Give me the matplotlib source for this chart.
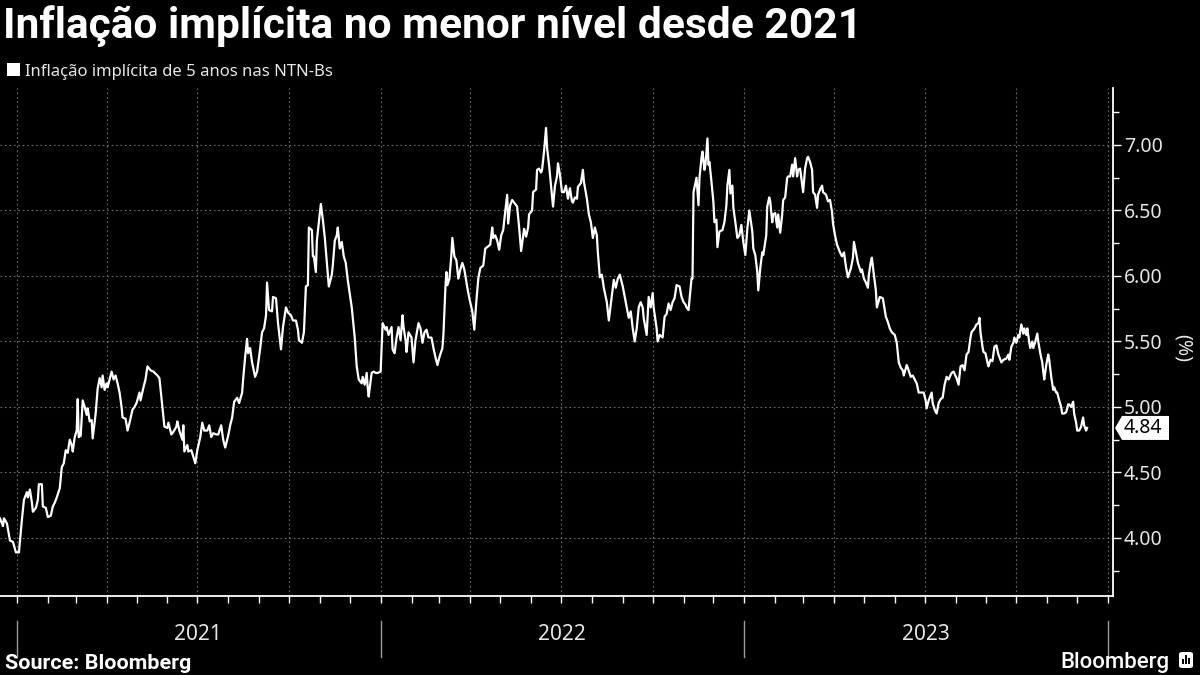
import matplotlib
matplotlib.use("Agg")
import matplotlib.pyplot as plt
import matplotlib.dates as mdates
import matplotlib.transforms as mtransforms
import pandas as pd
from matplotlib.patches import Rectangle, Polygon, FancyBboxPatch

plt.rcParams['font.family'] = ['Noto Sans', 'DejaVu Sans']
BOLD = ['Roboto', 'Lato', 'DejaVu Sans']

start = pd.Timestamp("2020-12-15")

days_2021a = [0, 3, 4, 7, 10, 13, 16, 19, 22, 24, 27, 28, 30, 32, 33, 36, 38, 39, 42, 43,
              46, 48, 51, 53, 55, 57, 60, 62, 64, 66, 68, 70, 72, 73, 75, 77, 78, 79, 81, 83,
              85, 87, 88, 90, 92, 93, 96, 98, 100, 102, 103, 105, 107, 108, 110, 112, 114, 116, 118, 120,
              122, 123, 126, 128, 130, 133, 135, 137,
              140, 141, 144, 146, 148, 151, 154, 158, 160, 163, 165, 168, 169, 172, 174, 177, 178, 180, 183, 184,
              185, 188, 189, 192, 194, 196, 198, 201, 203, 205, 208, 210, 212, 214, 217, 219, 222, 224, 226, 229,
              231]
vals_2021a = [4.15, 4.09, 4.15, 4.11, 3.98, 3.97, 3.89, 3.89, 4.14, 4.29, 4.35, 4.31, 4.37, 4.27, 4.20, 4.23, 4.29, 4.41, 4.41, 4.24,
              4.23, 4.16, 4.17, 4.24, 4.27, 4.31, 4.38, 4.54, 4.57, 4.67, 4.65, 4.75, 4.71, 4.66, 4.77, 4.82, 5.06, 4.77, 4.78, 5.05,
              5.00, 4.94, 4.99, 4.89, 4.90, 4.76, 4.95, 5.14, 5.22, 5.15, 5.24, 5.13, 5.18, 5.15, 5.21, 5.27, 5.21, 5.24, 5.18, 5.11,
              5.00, 4.92, 4.91, 4.82, 4.88, 4.98, 5.00, 5.03,
              5.11, 5.05, 5.15, 5.21, 5.31, 5.28, 5.27, 5.24, 5.22, 5.00, 4.85, 4.84, 4.88, 4.79, 4.81, 4.85, 4.89, 4.82, 4.75, 4.86,
              4.66, 4.71, 4.66, 4.67, 4.62, 4.57, 4.67, 4.77, 4.88, 4.82, 4.82, 4.86, 4.77, 4.80, 4.79, 4.79, 4.86, 4.75, 4.69, 4.78,
              4.86]

days_2021b = [233, 235, 238, 240, 243, 244, 246, 248, 249, 251, 253, 256, 258, 261, 263, 265, 267, 268, 270, 273,
              274, 277, 279, 282, 284, 287, 289, 292, 294, 297, 299, 300, 303, 305, 307, 309, 310, 313, 314, 315,
              317, 318, 320, 322, 324, 326, 328, 330, 333, 334, 336, 338, 339, 341, 343, 345, 347, 349, 353, 356,
              358, 360, 363, 364, 366, 368, 369, 370, 373, 375, 377, 379, 382, 384, 387, 388, 390, 393, 394, 396,
              398, 400, 402, 404, 405, 407, 408, 410, 413, 415, 417, 420, 422, 424, 426, 428, 430, 433, 435, 437,
              439, 441, 444, 445]
vals_2021b = [4.92, 5.04, 5.07, 5.03, 5.11, 5.21, 5.38, 5.52, 5.41, 5.45, 5.34, 5.23, 5.27, 5.44, 5.57, 5.60, 5.70, 5.95, 5.74, 5.73,
              5.84, 5.83, 5.64, 5.44, 5.61, 5.76, 5.72, 5.70, 5.66, 5.66, 5.59, 5.51, 5.49, 5.57, 5.92, 5.93, 6.37, 6.35, 6.15, 6.15,
              6.03, 6.27, 6.41, 6.55, 6.43, 6.29, 6.10, 5.92, 6.01, 6.08, 6.27, 6.31, 6.37, 6.21, 6.26, 6.15, 6.10, 5.97, 5.76, 5.53,
              5.31, 5.21, 5.18, 5.23, 5.17, 5.26, 5.15, 5.08, 5.26, 5.27, 5.26, 5.26, 5.27, 5.64, 5.59, 5.61, 5.55, 5.61, 5.44, 5.41,
              5.53, 5.61, 5.51, 5.70, 5.61, 5.51, 5.42, 5.57, 5.53, 5.34, 5.51, 5.64, 5.60, 5.49, 5.57, 5.59, 5.53, 5.53, 5.45, 5.38,
              5.32, 5.38, 5.45, 5.55]

days_2022a = [447, 448, 449, 451, 453, 454, 456, 458, 460, 462, 464, 466, 469, 471, 474, 476, 478, 480, 482, 485,
              487, 489, 492, 494, 495, 497, 499, 501, 503, 505, 507, 509, 510, 512, 514, 516, 519, 521, 523, 525,
              526, 528, 530, 531, 534, 535, 538, 539, 541, 543, 544, 546, 548, 549, 551, 553, 555, 557, 559, 560,
              562, 564, 566, 568, 570, 572, 574, 575, 577, 579, 580, 583, 585, 586, 589, 591, 593, 595, 597, 599,
              600, 602, 604, 606, 609, 611, 614, 616, 618, 620, 622, 625, 627, 629, 631, 633, 635, 637, 639, 641,
              643, 645, 646, 649, 651, 653, 655, 656, 659, 660, 662, 665]
vals_2022a = [5.91, 6.03, 5.93, 5.98, 6.16, 6.29, 6.15, 6.12, 5.98, 6.05, 6.10, 6.05, 5.91, 5.83, 5.73, 5.59, 5.80, 5.98, 6.06, 6.08,
              6.21, 6.22, 6.24, 6.37, 6.29, 6.31, 6.27, 6.20, 6.31, 6.35, 6.49, 6.62, 6.40, 6.54, 6.58, 6.56, 6.53, 6.37, 6.19, 6.30,
              6.36, 6.30, 6.37, 6.47, 6.50, 6.64, 6.66, 6.81, 6.82, 6.79, 6.81, 6.95, 7.13, 6.98, 6.85, 6.69, 6.53, 6.69, 6.76, 6.86,
              6.77, 6.64, 6.64, 6.69, 6.59, 6.67, 6.57, 6.56, 6.60, 6.59, 6.68, 6.71, 6.81, 6.72, 6.59, 6.47, 6.41, 6.29, 6.37, 6.31,
              6.18, 5.99, 6.01, 5.91, 5.80, 5.66, 5.85, 5.97, 5.91, 5.98, 6.01, 5.92, 5.84, 5.76, 5.68, 5.73, 5.60, 5.50, 5.60, 5.76,
              5.80, 5.76, 5.68, 5.55, 5.84, 5.76, 5.87, 5.76, 5.60, 5.50, 5.55, 5.53]

days_2022b = [667, 669, 671, 673, 675, 677, 679, 682, 684, 686, 688, 689, 691, 694, 695, 696, 699, 701, 702, 704,
              705, 707, 708, 710, 711, 712, 714, 716, 717, 719, 720, 722, 725, 727, 729, 730, 732, 733, 735, 736,
              738, 740, 742, 744, 746, 748, 750, 752, 755, 756, 758, 760, 761, 763, 765, 766, 769, 770, 772, 773,
              775, 776, 778, 780, 781, 783, 785, 786, 788, 790, 791, 793, 795, 796, 798, 800, 801, 803, 806, 808,
              810, 811, 813, 815, 816, 818, 820, 821, 823, 825, 826, 829, 831, 833, 835, 836, 838, 840, 843, 845,
              847, 849, 851, 854, 856, 857, 859, 861, 864, 865, 867, 869, 871, 872, 874, 875, 877, 879, 880, 883,
              886]
vals_2022b = [5.69, 5.71, 5.79, 5.74, 5.80, 5.83, 5.93, 5.92, 5.84, 5.80, 5.78, 5.76, 5.74, 5.98, 5.98, 6.64, 6.75, 6.54, 6.75, 6.90,
              6.95, 6.81, 6.85, 7.05, 6.85, 6.87, 6.72, 6.56, 6.41, 6.43, 6.22, 6.34, 6.35, 6.41, 6.54, 6.69, 6.81, 6.63, 6.69, 6.52,
              6.41, 6.29, 6.31, 6.39, 6.26, 6.16, 6.36, 6.50, 6.34, 6.21, 6.16, 6.03, 5.89, 6.06, 6.18, 6.16, 6.31, 6.53, 6.60, 6.57,
              6.41, 6.47, 6.48, 6.37, 6.47, 6.33, 6.47, 6.58, 6.60, 6.75, 6.76, 6.76, 6.85, 6.76, 6.90, 6.76, 6.81, 6.82, 6.64, 6.82,
              6.90, 6.91, 6.87, 6.81, 6.64, 6.62, 6.52, 6.62, 6.66, 6.69, 6.64, 6.62, 6.57, 6.58, 6.49, 6.40, 6.31, 6.24, 6.18, 6.15,
              6.18, 6.07, 5.99, 6.06, 6.14, 6.26, 6.18, 6.10, 6.03, 6.05, 5.98, 5.95, 5.91, 6.01, 6.11, 6.14, 6.01, 5.89, 5.76, 5.84,
              5.83]

days_2023 = [889, 891, 893, 895, 898, 900, 902, 904, 906, 907, 910, 911, 914, 916, 918, 920, 922, 925, 927, 929,
             930, 932, 935, 936, 938, 940, 942, 944, 946, 948, 950, 952, 955, 957, 960, 962, 964, 966, 968, 970,
             972, 974, 975, 978, 980, 982, 983, 984, 986, 987, 989, 991, 992, 994, 996, 998, 1000, 1002, 1005, 1007,
             1010, 1012, 1013, 1015, 1017, 1018, 1020, 1022, 1023, 1025, 1027, 1028, 1030, 1031, 1033, 1034, 1036, 1037, 1039, 1041,
             1042, 1044, 1046, 1047, 1048, 1050, 1052, 1053, 1055, 1057, 1058, 1060, 1061, 1063, 1065, 1066, 1068, 1070, 1072, 1073,
             1075, 1077, 1078, 1080, 1081, 1083, 1085, 1087, 1088, 1090, 1091]
vals_2023 = [5.69, 5.65, 5.60, 5.57, 5.55, 5.49, 5.34, 5.30, 5.28, 5.24, 5.32, 5.30, 5.23, 5.24, 5.21, 5.18, 5.11, 5.11, 5.11, 5.05,
             4.99, 5.05, 5.11, 5.03, 4.98, 4.95, 5.03, 5.06, 5.07, 5.17, 5.23, 5.21, 5.26, 5.27, 5.22, 5.17, 5.31, 5.32, 5.28, 5.40,
             5.42, 5.53, 5.57, 5.60, 5.63, 5.64, 5.68, 5.57, 5.46, 5.42, 5.41, 5.34, 5.31, 5.36, 5.35, 5.46, 5.47, 5.40, 5.34, 5.36,
             5.37, 5.40, 5.36, 5.46, 5.49, 5.53, 5.49, 5.55, 5.53, 5.63, 5.56, 5.60, 5.55, 5.60, 5.49, 5.45, 5.50, 5.45, 5.50, 5.56,
             5.50, 5.41, 5.34, 5.27, 5.21, 5.32, 5.40, 5.36, 5.23, 5.13, 5.15, 5.11, 5.11, 5.05, 5.00, 4.95, 4.95, 4.96, 5.02, 5.02,
             5.00, 5.04, 4.95, 4.88, 4.82, 4.82, 4.85, 4.92, 4.86, 4.82, 4.84]

days = days_2021a + days_2021b + days_2022a + days_2022b + days_2023
vals = vals_2021a + vals_2021b + vals_2022a + vals_2022b + vals_2023
assert len(days) == len(vals)
dates = start + pd.to_timedelta(days, unit="D")

y_ticks = [4.0, 4.5, 5.0, 5.5, 6.0, 6.5, 7.0]
y_minor = [3.75, 4.25, 4.75, 5.25, 5.75, 6.25, 6.75, 7.25]
year_labels = ["2021", "2022", "2023"]
year_starts = ["2021-01-01", "2022-01-01", "2023-01-01", "2024-01-01"]

title = "Inflação implícita no menor nível desde 2021"
series_name = "Inflação implícita de 5 anos nas NTN-Bs"

W, H = 1200, 675
fig = plt.figure(figsize=(12, 6.75), dpi=100, facecolor="black")
ax = fig.add_axes([0, 1 - 596 / H, 1113 / W, (596 - 88) / H])
ax.set_facecolor("black")

ax.plot(dates, vals, color="white", lw=1.6, solid_joinstyle="round", zorder=3)

ax.set_xlim(start, pd.Timestamp("2024-01-06"))
ax.set_ylim(3.557, 7.435)

# y axis on the right
ax.yaxis.tick_right()
ax.set_yticks(y_ticks)
ax.set_yticks(y_minor, minor=True)
ax.set_yticklabels([f"{t:.2f}" for t in y_ticks])
ax.tick_params(axis="y", which="both", colors="white", labelcolor="#e6e6e6",
               labelsize=14, width=1, pad=2)
ax.tick_params(axis="y", which="major", length=6)
ax.tick_params(axis="y", which="minor", length=4)

# x axis: quarters get grid lines, every month gets a tick
ax.xaxis.set_major_locator(mdates.MonthLocator(bymonth=[1, 4, 7, 10]))
ax.xaxis.set_minor_locator(mdates.MonthLocator())
ax.tick_params(axis="x", which="both", colors="white", length=5, width=1,
               labelbottom=False)

ax.grid(True, which="major", color="#6e6e6e", linestyle=(0, (1.5, 2.5)), lw=0.8)

for s in ["left", "top"]:
    ax.spines[s].set_visible(False)
for s in ["right", "bottom"]:
    ax.spines[s].set_color("white")
    ax.spines[s].set_linewidth(1.3)

# year separators and labels
xt = ax.get_xaxis_transform()
for d in year_starts:
    ax.plot([pd.Timestamp(d)] * 2, [-0.05, -0.12], color="#9a9a9a", lw=1,
            transform=xt, clip_on=False)
for lab in year_labels:
    ax.text(pd.Timestamp(f"{lab}-07-02"), -0.076, lab, transform=xt,
            ha="center", va="center", fontsize=15, color="#e6e6e6")

ax.text(1.0 + 70 / 1113, 5.45, "(%)", transform=ax.get_yaxis_transform(),
        rotation=270, ha="center", va="center", fontsize=14, color="#e6e6e6")

# last value tag
last = vals[-1]
x0, y0 = ax.get_yaxis_transform().transform((1.0, last))
tag = Polygon([(2, 0), (9, 12), (56, 12), (56, -12), (9, -12)], closed=True,
              fc="white", ec="none",
              transform=mtransforms.Affine2D().translate(x0, y0), zorder=10)
fig.add_artist(tag)
fig.text(x0 + 11, y0, f"{last:.2f}", transform=mtransforms.IdentityTransform(),
         ha="left", va="center", fontsize=14, color="black", zorder=11)

# titles
t = fig.text(3 / W, 1 - 38 / H, title, fontsize=25, fontweight="bold", family=BOLD,
             color="white", va="baseline", ha="left")
renderer = fig.canvas.get_renderer()
t.set_fontsize(25 * 859 / t.get_window_extent(renderer).width)

fig.add_artist(Rectangle((7 / W, 1 - 76 / H), 13 / W, 13 / H, transform=fig.transFigure,
                         fc="white", ec="none"))
fig.text(25 / W, 1 - 76 / H, series_name, fontsize=12, color="#e6e6e6",
         va="baseline", ha="left")

s = fig.text(5 / W, 1 - 669 / H, "Source: Bloomberg", fontsize=13.5, fontweight="bold",
             family=BOLD, color="white", va="baseline", ha="left")
s.set_fontsize(13.5 * 185 / s.get_window_extent(renderer).width)
fig.text(1169 / W, 1 - 668 / H, "Bloomberg", fontsize=16, fontweight="medium",
         family=BOLD, color="white", va="baseline", ha="right")
icon = FancyBboxPatch((1179 / W, 1 - 668 / H), 14 / W, 16 / H,
                      boxstyle="round,pad=0,rounding_size=0.003",
                      transform=fig.transFigure, fc="white", ec="none")
fig.add_artist(icon)
for i, h in enumerate([5, 9, 6]):
    fig.add_artist(Rectangle(((1182 + 3 * i) / W, 1 - 664 / H), 1.6 / W, h / H,
                             transform=fig.transFigure, fc="black", ec="none"))

fig.savefig("out.png", dpi=100, facecolor="black")
